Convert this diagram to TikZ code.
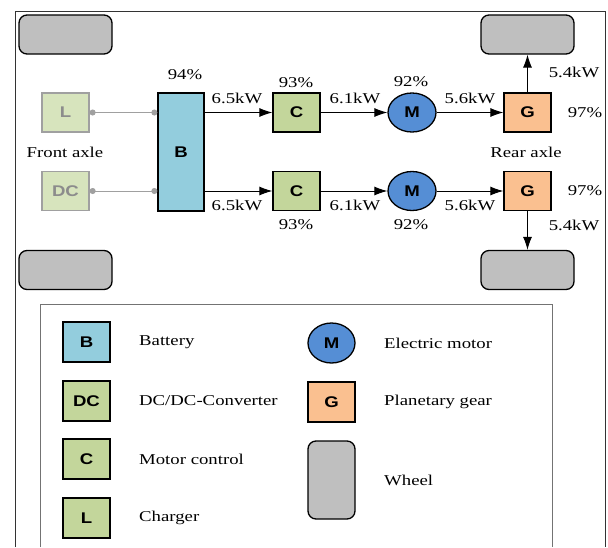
\documentclass[tikz,border=0pt]{standalone}
\usepackage{fontspec}
\setmainfont{Liberation Serif}[FakeStretch=1.25]
\newfontfamily\boxfont{Liberation Sans}[FakeStretch=1.2]
\usetikzlibrary{shapes.geometric,arrows.meta}
\definecolor{batblue}{HTML}{93CDDD}
\definecolor{ctrlgreen}{HTML}{C3D69B}
\definecolor{fadegreen}{HTML}{D7E4BD}
\definecolor{fadeline}{HTML}{A0A0A0}
\definecolor{fadetext}{HTML}{8C8C8C}
\definecolor{motorblue}{HTML}{558ED5}
\definecolor{gearpeach}{HTML}{FAC090}
\definecolor{wheelgray}{HTML}{BFBFBF}
\tikzset{
  x=1pt, y=-1pt,
  blk/.style={draw=black, line width=1.3pt, minimum width=47pt, minimum height=39pt, inner sep=0pt,
    font=\boxfont\bfseries\fontsize{15.5}{15.5}\selectfont},
  fadeblk/.style={blk, draw=fadeline, fill=fadegreen, text=fadetext},
  motor/.style={blk, ellipse, fill=motorblue, minimum width=48pt, minimum height=39pt},
  wheel/.style={draw=black, line width=1.3pt, fill=wheelgray, rounded corners=8pt,
    minimum width=93pt, minimum height=39pt, inner sep=0pt},
  lbl/.style={inner sep=0pt, font=\fontsize{15}{15}\selectfont},
  arr/.style={draw=black, line width=0.9pt, -{Latex[length=13pt,width=9pt]}},
  grayline/.style={draw=fadeline, line width=0.9pt, {Circle[length=6pt]}-{Circle[length=6pt]}},
}
\begin{document}
\begin{tikzpicture}
\useasboundingbox (0,0) rectangle (608,547);
% outer frame
\draw[line width=0.8pt, draw=black!80] (15,547) -- (15,11) -- (605,11) -- (605,547);
% wheels
\node[wheel] (w1) at (65.5,34.5) {};
\node[wheel] (w2) at (527.5,34.5) {};
\node[wheel] (w3) at (65.5,270) {};
\node[wheel] (w4) at (527.5,270) {};
% components
\node[fadeblk] (L) at (65.5,112.5) {L};
\node[fadeblk] (DC) at (65.5,191) {DC};
\node[blk, fill=batblue, minimum width=46pt, minimum height=118pt] (B) at (181,152) {B};
\node[blk, fill=ctrlgreen] (C1) at (296.5,112.5) {C};
\node[blk, fill=ctrlgreen] (C2) at (296.5,191) {C};
\node[motor] (M1) at (412,112.5) {M};
\node[motor] (M2) at (412,191) {M};
\node[blk, fill=gearpeach] (G1) at (527.5,112.5) {G};
\node[blk, fill=gearpeach] (G2) at (527.5,191) {G};
% connectors
\draw[grayline] (L.east) -- (L.east -| B.west);
\draw[grayline] (DC.east) -- (DC.east -| B.west);
\draw[arr] (C1.west -| B.east) -- (C1.west);
\draw[arr] (C2.west -| B.east) -- (C2.west);
\draw[arr] (C1) -- (M1);
\draw[arr] (C2) -- (M2);
\draw[arr] (M1) -- (G1);
\draw[arr] (M2) -- (G2);
\draw[arr] (G1) -- (w2);
\draw[arr] (G2) -- (w4);
% labels
\node[lbl] (t94) at (185,75) {94\%};
\node[lbl] (p65a) at (237,98) {6.5kW};
\node[lbl] (p65b) at (237,205) {6.5kW};
\node[lbl] (t93a) at (296,83) {93\%};
\node[lbl] (t93b) at (296,225) {93\%};
\node[lbl] (p61a) at (355,98) {6.1kW};
\node[lbl] (p61b) at (355,205) {6.1kW};
\node[lbl] (t92a) at (411,82) {92\%};
\node[lbl] (t92b) at (411,225) {92\%};
\node[lbl] (p56a) at (470,98) {5.6kW};
\node[lbl] (p56b) at (470,205) {5.6kW};
\node[lbl] (p54a) at (574,72) {5.4kW};
\node[lbl] (p54b) at (574,225) {5.4kW};
\node[lbl] (t97a) at (585,112.5) {97\%};
\node[lbl] (t97b) at (585,191) {97\%};
\node[lbl] (front) at (65,152) {Front axle};
\node[lbl] (rear) at (526,152) {Rear axle};
% legend
\draw[line width=1pt, draw=black!55] (40,547) -- (40,304) -- (552,304) -- (552,547);
\node[blk, fill=batblue, minimum height=40pt] (lB) at (86.5,342) {B};
\node[blk, fill=ctrlgreen, minimum height=40pt] (lDC) at (86.5,401) {DC};
\node[blk, fill=ctrlgreen, minimum height=40pt] (lC) at (86.5,459) {C};
\node[blk, fill=ctrlgreen, minimum height=40pt] (lL) at (86.5,518) {L};
\node[motor, minimum width=47pt, minimum height=40pt] (lM) at (331.5,343) {M};
\node[blk, fill=gearpeach, minimum height=40pt] (lG) at (331.5,402) {G};
\node[wheel, minimum width=47pt, minimum height=78pt] (lW) at (331.5,480) {};
\node[lbl, anchor=west] (tB) at (139,342) {Battery};
\node[lbl, anchor=west] (tDC) at (139,401) {DC/DC-Converter};
\node[lbl, anchor=west] (tC) at (139,459) {Motor control};
\node[lbl, anchor=west] (tL) at (139,518) {Charger};
\node[lbl, anchor=west] (tM) at (384,343) {Electric motor};
\node[lbl, anchor=west] (tG) at (384,402) {Planetary gear};
\node[lbl, anchor=west] (tW) at (384,480) {Wheel};
\end{tikzpicture}
\end{document}
